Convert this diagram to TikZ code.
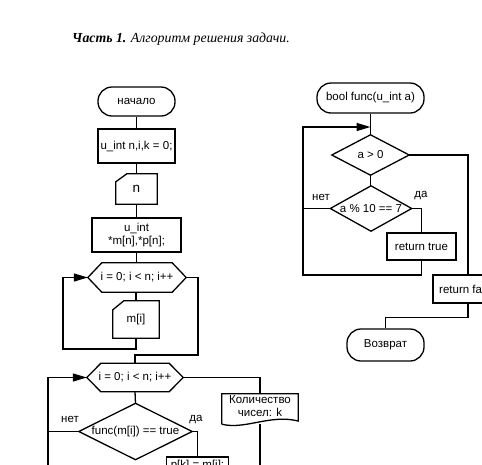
\documentclass[tikz,border=0pt]{standalone}
\usepackage{fontspec}
\setmainfont{Liberation Sans}
\newfontfamily\titlefont{Liberation Serif}
\usetikzlibrary{arrows.meta}
\tikzset{
  base/.style={line width=1.3pt},
  lbl/.style={font=\fontsize{11.5}{13}\selectfont, inner sep=0pt},
  term/.style={draw, base, rounded corners=14pt, minimum width=#1, inner sep=0pt, font=\fontsize{11.5}{13}\selectfont},
  proc/.style={draw, base, inner sep=0pt, align=center, font=\fontsize{11.5}{13}\selectfont},
  hidden/.style={inner sep=0pt, align=center, font=\fontsize{11.5}{13}\selectfont},
  arr/.style={base, -{Triangle[length=14pt,width=8pt]}},
  con/.style={base}
}
\begin{document}
\begin{tikzpicture}[x=1pt,y=-1pt]
\clip (0,0) rectangle (482,464);
\fill[white] (0,0) rectangle (482,464);

% title
\node[anchor=west, inner sep=0pt, font=\titlefont\fontsize{13.8}{15}\selectfont\itshape] (title) at (72,39) {\textbf{Часть 1.} Алгоритм решения задачи.};

% ---------- left column ----------
\node[term=77pt, minimum height=29pt] (start) at (136.5,101.5) {начало};
\node[proc, minimum width=77pt, minimum height=34pt] (init) at (136.5,146) {u\_int n,i,k = 0;};
\node[hidden, minimum width=41pt, minimum height=30pt, font=\fontsize{13.5}{15}\selectfont] (inn) at (136.5,189) {n};
\draw[base] ([yshift=-8pt]inn.north west) -- ([xshift=11pt]inn.north west) -- (inn.north east) -- (inn.south east) -- (inn.south west) -- cycle;
\node[proc, minimum width=89pt, minimum height=34pt] (decl) at (136.5,235) {u\_int\\*m[n],*p[n];};
\node[hidden, minimum width=98pt, minimum height=29pt] (hexa) at (137,277.5) {i = 0; i < n; i++};
\draw[base] (hexa.west) -- ([xshift=14pt]hexa.north west) -- ([xshift=-14pt]hexa.north east) -- (hexa.east) -- ([xshift=-14pt]hexa.south east) -- ([xshift=14pt]hexa.south west) -- cycle;
\node[hidden, minimum width=46pt, minimum height=37pt] (mi) at (136,319.5) {m[i]};
\draw[base] ([yshift=-9pt]mi.north west) -- ([xshift=11pt]mi.north west) -- (mi.north east) -- (mi.south east) -- (mi.south west) -- cycle;
\node[hidden, minimum width=96pt, minimum height=28pt] (hexb) at (135,377.5) {i = 0; i < n; i++};
\draw[base] (hexb.west) -- ([xshift=14pt]hexb.north west) -- ([xshift=-14pt]hexb.north east) -- (hexb.east) -- ([xshift=-14pt]hexb.south east) -- ([xshift=14pt]hexb.south west) -- cycle;
\node[hidden, minimum width=113pt, minimum height=56pt] (dfunc) at (135.5,431.5) {func(m[i]) == true};
\draw[base] (dfunc.west) -- (dfunc.north) -- (dfunc.east) -- (dfunc.south) -- cycle;
\node[lbl] (net1) at (70,419) {нет};
\node[lbl] (da1) at (196,420) {да};
\node[proc, minimum width=62pt, minimum height=18pt] (pk) at (197.5,466) {p[k] = m[i];};
\node[hidden, minimum width=76pt, minimum height=30pt] (doc) at (260,409) {};
\node[hidden] (doctext) at (260,406) {Количество\\чисел: k};
\draw[base] (doc.south west) -- (doc.north west) -- (doc.north east) -- (doc.south east |- 0,421) .. controls (270,414) and (245,430) .. (doc.south west);

\coordinate (L1) at (63,349);
\coordinate (R1) at (198,355);
\coordinate (L2) at (48,470);
\coordinate (D2) at (260,470);

\draw[con] (start) -- (init);
\draw[con] (init) -- (inn);
\draw[con] (inn) -- (decl);
\draw[con] (decl) -- (decl.south |- hexa.north);
\draw[con] (hexa.south -| mi.north) -- (mi.north);
\draw[arr] (mi.south) |- (L1) |- (hexa.west);
\draw[con] (hexa.east) -| (R1) -| (hexb.north);
\draw[con] (hexb.south) -- (dfunc.north);
\draw[arr] (L2) |- (hexb.west);
\draw[con] (dfunc.west) -- (dfunc.west -| L2);
\draw[con] (dfunc.east) -| (pk.north);
\draw[con] (hexb.east) -| (doc.north);
\draw[con] (doc.south) -- (D2);

% ---------- right column ----------
\node[term=107pt, minimum height=30pt] (func) at (370.5,98) {bool func(u\_int a)};
\node[hidden, minimum width=77pt, minimum height=40pt] (dpos) at (370.5,155) {a > 0};
\draw[base] (dpos.west) -- (dpos.north) -- (dpos.east) -- (dpos.south) -- cycle;
\node[hidden, minimum width=81pt, minimum height=45pt] (dmod) at (371,208.5) {a \% 10 == 7};
\draw[base] (dmod.west) -- (dmod.north) -- (dmod.east) -- (dmod.south) -- cycle;
\node[lbl] (net2) at (321,197) {нет};
\node[lbl] (da2) at (421,196) {да};
\node[proc, minimum width=69pt, minimum height=27pt] (rt) at (421.5,246.5) {return true};
\node[proc, minimum width=70pt, minimum height=28pt] (rf) at (468,289) {return false};
\node[term=77pt, minimum height=32pt] (ret) at (385.5,345) {Возврат};

\coordinate (J1) at (370.5,127);
\coordinate (L3) at (303,275);

\draw[con] (func) -- (dpos);
\draw[con] (dpos.south) -- (dpos.south |- dmod.north);
\draw[arr] (rt.south) |- (L3) |- (J1);
\draw[con] (dmod.west) -- (dmod.west -| L3);
\draw[con] (dmod.east) -| (rt.north);
\draw[con] (dpos.east) -| (rf.north);
\draw[con] (rf.south) -- ++(0,14) -| (ret.north);
\end{tikzpicture}
\end{document}
